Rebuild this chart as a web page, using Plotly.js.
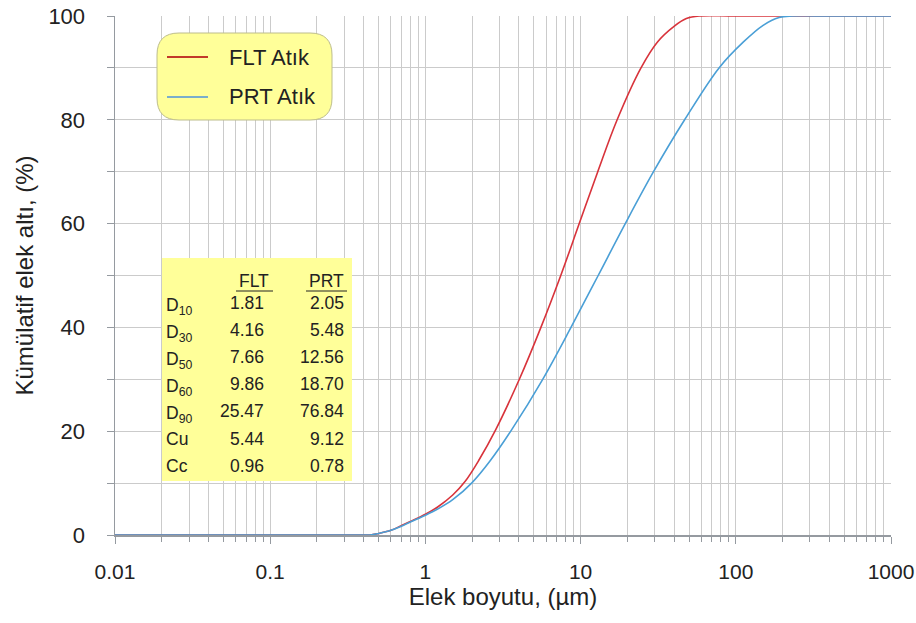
<!DOCTYPE html>
<html>
<head>
<meta charset="utf-8">
<script src="https://cdn.plot.ly/plotly-3.0.1.min.js"></script>
<style>
  html, body { margin: 0; padding: 0; background: #ffffff; }
  #chart { width: 916px; height: 623px; }
</style>
</head>
<body>
<div id="chart"></div>
<script>
// ---- Data ----
const seriesNames = ['FLT Atık', 'PRT Atık'];

// FLT Atık: particle size (µm) and cumulative passing (%)
const fltSize    = [0.01, 0.1, 0.3, 0.45, 0.5, 0.6, 0.7, 0.8, 1.0, 1.2, 1.5, 1.8, 2.2, 2.84, 4.03, 5.55, 7.45, 9.8, 12.9, 17.2, 24.5, 31.3, 40.0, 48.0, 58.0, 100, 1000];
const fltPassing = [0,    0,   0,   0.05, 0.3, 0.9, 1.8, 2.6, 4.0, 5.4, 7.7, 10.3, 14.3, 20.3, 30.0, 40.0, 50.0, 60.0, 70.0, 80.0, 90.0, 95.0, 98.0, 99.5, 100, 100, 100];

// PRT Atık
const prtSize    = [0.01, 0.1, 0.3, 0.45, 0.5, 0.6, 0.7, 0.8, 1.0, 1.2, 1.5, 2.0, 2.6, 3.6, 5.7, 8.67, 12.98, 19.4, 29.5, 46.8, 78.0, 112, 150, 190, 230, 400, 1000];
const prtPassing = [0,    0,   0,   0.05, 0.3, 0.9, 1.7, 2.5, 3.8, 5.0, 6.8, 10.1, 14.2, 20.3, 30.0, 40.0, 50.0, 60.0, 70.0, 80.0, 90.0, 95.0, 98.2, 99.7, 100, 100, 100];

// Inset table
const tableHeaders = ['FLT', 'PRT'];
const tableRowLabels = ['D<sub>10</sub>', 'D<sub>30</sub>', 'D<sub>50</sub>', 'D<sub>60</sub>', 'D<sub>90</sub>', 'Cu', 'Cc'];
const tableFLT = ['1.81', '4.16', '7.66', '9.86', '25.47', '5.44', '0.96'];
const tablePRT = ['2.05', '5.48', '12.56', '18.70', '76.84', '9.12', '0.78'];

// Axis texts
const xTitle = 'Elek boyutu, (µm)';
const yTitle = 'Kümülatif elek altı, (%)';

// ---- Layout helpers (pixel -> paper) ----
const W = 916, H = 623;
const M = { l: 115, r: 25, t: 16, b: 88 };
const PW = W - M.l - M.r, PH = H - M.t - M.b;
const px = v => (v - M.l) / PW;
const py = v => (H - M.b - v) / PH;

const FONT = 'Liberation Sans, Arial, Helvetica, sans-serif';
const TXT = '#222222';
const colors = ['#d8333b', '#4a9fd6'];
const legendColors = ['#c23a2a', '#7aaecb'];

const traces = [
  { x: fltSize, y: fltPassing, name: seriesNames[0], type: 'scatter', mode: 'lines',
    line: { color: colors[0], width: 1.6, shape: 'spline', smoothing: 1 }, showlegend: false },
  { x: prtSize, y: prtPassing, name: seriesNames[1], type: 'scatter', mode: 'lines',
    line: { color: colors[1], width: 1.6, shape: 'spline', smoothing: 1 }, showlegend: false }
];

const shapes = [];
const annotations = [];

// Legend box (rounded)
(function () {
  const x0 = px(157), x1 = px(332), y0 = py(33), y1 = py(120);
  const rx = 22 / PW, ry = 22 / PH;
  const path = `M ${x0 + rx},${y0} L ${x1 - rx},${y0} Q ${x1},${y0} ${x1},${y0 - ry} ` +
               `L ${x1},${y1 + ry} Q ${x1},${y1} ${x1 - rx},${y1} L ${x0 + rx},${y1} ` +
               `Q ${x0},${y1} ${x0},${y1 + ry} L ${x0},${y0 - ry} Q ${x0},${y0} ${x0 + rx},${y0} Z`;
  shapes.push({ type: 'path', xref: 'paper', yref: 'paper', path: path,
                fillcolor: '#ffff99', line: { color: '#bdbd8c', width: 1 }, layer: 'above' });
  const rowsY = [57, 97];
  seriesNames.forEach((nm, i) => {
    shapes.push({ type: 'line', xref: 'paper', yref: 'paper',
                  x0: px(167), x1: px(208), y0: py(rowsY[i]), y1: py(rowsY[i]),
                  line: { color: legendColors[i], width: 2 }, layer: 'above' });
    annotations.push({ xref: 'paper', yref: 'paper', x: px(227), y: py(rowsY[i]),
                       xanchor: 'left', yanchor: 'middle', showarrow: false, text: nm,
                       font: { family: FONT, size: 22, color: TXT } });
  });
})();

// Inset table
(function () {
  shapes.push({ type: 'rect', xref: 'paper', yref: 'paper',
                x0: px(162), x1: px(352), y0: py(258), y1: py(481),
                fillcolor: '#ffff99', line: { width: 0 }, layer: 'above' });
  const fs = 17.5;
  const hdrX = [254, 326];
  const hdrSpan = [[236, 273], [306, 347]];
  tableHeaders.forEach((h, i) => {
    annotations.push({ xref: 'paper', yref: 'paper', x: px(hdrX[i]), y: py(281),
                       xanchor: 'center', yanchor: 'middle', showarrow: false, text: h,
                       font: { family: FONT, size: fs, color: TXT } });
    shapes.push({ type: 'line', xref: 'paper', yref: 'paper',
                  x0: px(hdrSpan[i][0]), x1: px(hdrSpan[i][1]), y0: py(291), y1: py(291),
                  line: { color: TXT, width: 1 }, layer: 'above' });
  });
  const rowY0 = 303, rowStep = 27.1;
  tableRowLabels.forEach((lab, r) => {
    const yy = py(rowY0 + r * rowStep);
    const isSub = lab.indexOf('<sub>') >= 0;
    annotations.push({ xref: 'paper', yref: 'paper', x: px(164), y: isSub ? py(rowY0 + r * rowStep + 3) : yy,
                       xanchor: 'left', yanchor: 'middle', showarrow: false, text: lab,
                       font: { family: FONT, size: fs, color: TXT } });
    annotations.push({ xref: 'paper', yref: 'paper', x: px(266), y: yy,
                       xanchor: 'right', yanchor: 'middle', showarrow: false, text: tableFLT[r],
                       font: { family: FONT, size: fs, color: TXT } });
    annotations.push({ xref: 'paper', yref: 'paper', x: px(346), y: yy,
                       xanchor: 'right', yanchor: 'middle', showarrow: false, text: tablePRT[r],
                       font: { family: FONT, size: fs, color: TXT } });
  });
})();

const gridColor = '#cbcbcb';
const axisColor = '#959aa0';

const layout = {
  width: W, height: H,
  margin: M,
  paper_bgcolor: '#ffffff', plot_bgcolor: '#ffffff',
  font: { family: FONT, size: 21, color: TXT },
  showlegend: false,
  xaxis: {
    type: 'log', range: [-2, 3],
    dtick: 1, exponentformat: 'none',
    showgrid: true, gridcolor: gridColor, gridwidth: 1,
    showline: true, linecolor: axisColor, linewidth: 1.5,
    ticks: 'outside', ticklen: 7, tickcolor: axisColor,
    ticklabelstandoff: 10,
    ticklabeloverflow: 'allow',
    tickfont: { family: FONT, size: 21, color: TXT },
    minor: { dtick: 'D1', showgrid: true, gridcolor: gridColor, gridwidth: 1,
             ticks: 'outside', ticklen: 5, tickcolor: axisColor },
    zeroline: false,
    title: { text: xTitle, font: { family: FONT, size: 24, color: TXT }, standoff: 6 },
    mirror: false
  },
  yaxis: {
    range: [0, 100], dtick: 20,
    showgrid: true, gridcolor: gridColor, gridwidth: 1,
    showline: true, linecolor: axisColor, linewidth: 1.5,
    ticks: 'outside', ticklen: 7, tickcolor: axisColor,
    ticklabelstandoff: 17,
    tickfont: { family: FONT, size: 22, color: TXT },
    minor: { dtick: 10, showgrid: true, gridcolor: gridColor, gridwidth: 1,
             ticks: 'outside', ticklen: 7, tickcolor: axisColor },
    zeroline: false,
    title: { text: yTitle, font: { family: FONT, size: 24, color: TXT }, standoff: 8 }
  },
  shapes: shapes,
  annotations: annotations
};

Plotly.newPlot('chart', traces, layout, { displayModeBar: false, staticPlot: true });
</script>
</body>
</html>
